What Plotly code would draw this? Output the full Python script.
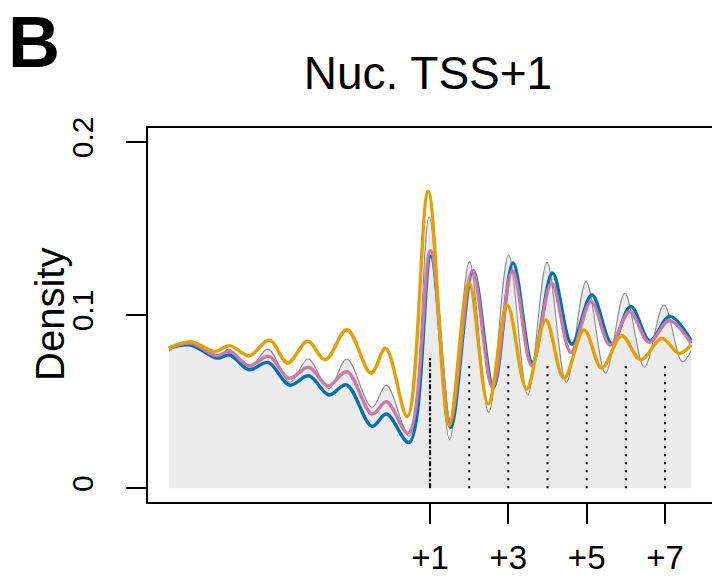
import plotly.graph_objects as go

# ---- data (position relative to +1 nucleosome, bp ; density) ----
gray_x = [-1000, -920, -816, -770, -693, -621, -536, -467, -387, -319, -222, -167, -80, -3,
          75, 151, 225, 301, 374, 448, 522, 598, 672, 746, 821, 896, 966, 1000]
gray_y = [0.0794, 0.0838, 0.0749, 0.0803, 0.0692, 0.0803, 0.0611, 0.0746, 0.0576, 0.0746, 0.0466, 0.0595, 0.0300, 0.1565,
          0.0279, 0.1308, 0.0437, 0.1347, 0.0538, 0.1304, 0.0611, 0.1193, 0.0663, 0.1125, 0.0698, 0.1058, 0.0730, 0.0794]

blue_x = [-1000, -917, -816, -767, -693, -620, -538, -464, -387, -320, -222, -167, -80, 3,
          79, 165, 243, 318, 392, 469, 543, 620, 696, 769, 842, 918, 1000]
blue_y = [0.0809, 0.0827, 0.0751, 0.0769, 0.0684, 0.0726, 0.0595, 0.0649, 0.0538, 0.0597, 0.0357, 0.0428, 0.0264, 0.1339,
          0.0351, 0.1256, 0.0582, 0.1301, 0.0726, 0.1243, 0.0832, 0.1116, 0.0836, 0.1050, 0.0852, 0.0992, 0.0852]

pink_x = [-1000, -917, -816, -767, -693, -617, -540, -465, -390, -318, -222, -167, -83, 2,
          77, 162, 239, 316, 390, 466, 540, 617, 690, 765, 839, 916, 1000]
pink_y = [0.0809, 0.0838, 0.0765, 0.0790, 0.0707, 0.0761, 0.0634, 0.0698, 0.0591, 0.0672, 0.0428, 0.0499, 0.0318, 0.1372,
          0.0389, 0.1256, 0.0582, 0.1256, 0.0707, 0.1185, 0.0784, 0.1077, 0.0827, 0.1019, 0.0842, 0.0967, 0.0836]

orange_x = [-1000, -917, -824, -767, -693, -615, -545, -469, -401, -318, -226, -170, -87, -7,
            73, 149, 223, 296, 370, 443, 513, 590, 658, 734, 807, 888, 954, 1000]
orange_y = [0.0809, 0.0846, 0.0790, 0.0823, 0.0765, 0.0855, 0.0723, 0.0848, 0.0742, 0.0915, 0.0665, 0.0808, 0.0414, 0.1715,
            0.0364, 0.1189, 0.0486, 0.1058, 0.0572, 0.0973, 0.0634, 0.0913, 0.0694, 0.0880, 0.0742, 0.0865, 0.0778, 0.0828]

nuc_pos = [0, 150, 300, 450, 600, 750, 900]
nuc_top = [0.0757, 0.0728, 0.0728, 0.0728, 0.0728, 0.0728, 0.0728]

x_tickvals = [0, 300, 600, 900]
x_ticktext = ["+1", "+3", "+5", "+7"]
y_tickvals = [0, 0.1, 0.2]
y_ticktext = ["0", "0.1", "0.2"]

FONT = "Liberation Sans, Arial, Helvetica, sans-serif"

fig = go.Figure()

# grey reference: filled area
fig.add_trace(go.Scatter(x=gray_x, y=gray_y, mode="lines", line=dict(color="rgba(0,0,0,0)", width=0, shape="spline"),
                         fill="tozeroy", fillcolor="#EBEBEB", hoverinfo="skip"))

# dotted nucleosome lines
for i, (p, t) in enumerate(zip(nuc_pos, nuc_top)):
    if i == 0:
        ln = dict(color="black", width=2.2, dash="5px,2px,2px,2px")
    else:
        ln = dict(color="black", width=2, dash="2px,6px")
    fig.add_trace(go.Scatter(x=[p, p], y=[0, t], mode="lines", line=ln, hoverinfo="skip"))

fig.add_trace(go.Scatter(x=gray_x, y=gray_y, mode="lines", line=dict(color="#8C8C8C", width=1.1, shape="spline")))
fig.add_trace(go.Scatter(x=blue_x, y=blue_y, mode="lines", line=dict(color="#0072B2", width=3.4, shape="spline")))
fig.add_trace(go.Scatter(x=pink_x, y=pink_y, mode="lines", line=dict(color="#CC79A7", width=3.4, shape="spline")))
fig.add_trace(go.Scatter(x=orange_x, y=orange_y, mode="lines", line=dict(color="#E69F00", width=3.4, shape="spline")))

fig.update_layout(
    width=712, height=577,
    margin=dict(l=148, r=0, t=128, b=75, autoexpand=False),
    paper_bgcolor="white", plot_bgcolor="white",
    showlegend=False,
    font=dict(family=FONT, color="black"),
    title=dict(text="Nuc. TSS+1", x=428 / 712, xanchor="center", y=1 - 73 / 577, yanchor="middle",
               yref="container", xref="container", automargin=False,
               font=dict(size=46, family=FONT, color="black")),
    xaxis=dict(range=[-1080, 1080], tickvals=x_tickvals, ticktext=x_ticktext,
               ticks="outside", ticklen=20, tickwidth=1.5, tickcolor="black",
               showline=True, linecolor="black", linewidth=1.5, mirror=True, automargin=False,
               showgrid=False, zeroline=False, tickfont=dict(size=33, family=FONT),
               ticklabelstandoff=6, fixedrange=True),
    yaxis=dict(range=[-0.008, 0.208], tickvals=y_tickvals, ticktext=y_ticktext, tickangle=-90,
               ticks="outside", ticklen=20, tickwidth=1.5, tickcolor="black",
               showline=True, linecolor="black", linewidth=1.5, mirror=True, automargin=False,
               showgrid=False, zeroline=False, tickfont=dict(size=30, family=FONT),
               ticklabelstandoff=21, fixedrange=True),
    annotations=[
        dict(text="<b>B</b>", xref="paper", yref="paper", x=(6 - 148) / 564, y=(502 - 42) / 374,
             xanchor="left", yanchor="middle", showarrow=False, font=dict(size=72, family=FONT, color="black")),
        dict(text="Density", xref="paper", yref="paper", x=(50 - 148) / 564, y=0.5, textangle=-90,
             xanchor="center", yanchor="middle", showarrow=False, font=dict(size=40, family=FONT, color="black")),
    ],
)

fig.write_html("out.html")
